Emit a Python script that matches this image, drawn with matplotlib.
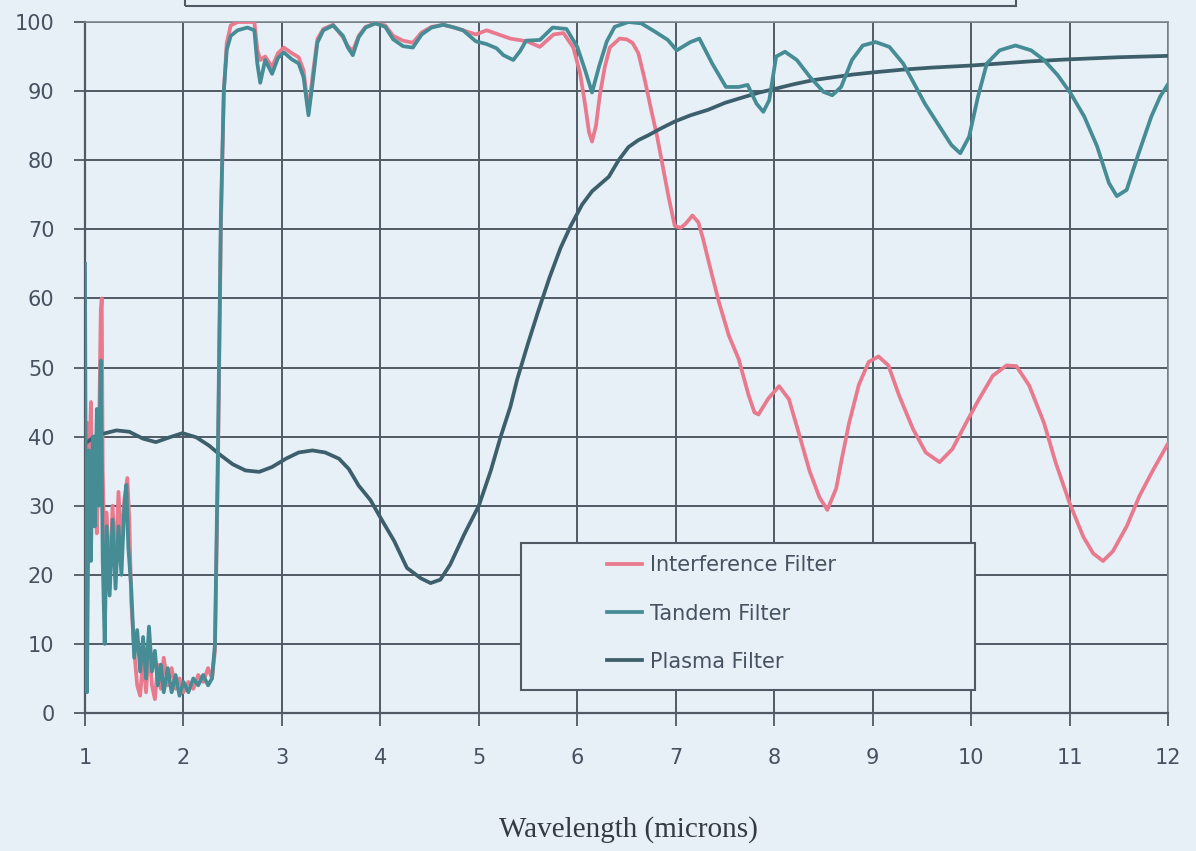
import matplotlib

matplotlib.use("Agg")
import matplotlib.pyplot as plt
from matplotlib.patches import Rectangle

BG = "#e7eff7"
GRID = "#4f5a64"
TXT = "#465260"
PINK = "#e97a8e"
TEAL = "#468c95"
SLATE = "#3d5f6c"

# Interference filter
int_x = [
    1.00, 1.02, 1.04, 1.06, 1.08, 1.10, 1.12, 1.14, 1.16, 1.17, 1.18, 1.20, 1.22, 1.25,
    1.28, 1.31, 1.34, 1.37, 1.40, 1.43, 1.45, 1.47, 1.50, 1.53, 1.56, 1.59, 1.62, 1.65,
    1.68, 1.71, 1.74, 1.77, 1.80, 1.84, 1.88, 1.92, 1.96, 2.00, 2.05, 2.10, 2.15, 2.20,
    2.25, 2.29, 2.32, 2.35, 2.38, 2.41, 2.44, 2.48, 2.55, 2.65, 2.72, 2.75, 2.78, 2.83,
    2.90, 2.96, 3.02, 3.10, 3.17, 3.22, 3.27, 3.31, 3.36, 3.42, 3.52, 3.62, 3.67, 3.72,
    3.78, 3.85, 3.95, 4.05, 4.13, 4.23, 4.33, 4.42, 4.52, 4.64, 4.75, 4.84, 4.97, 5.08,
    5.18, 5.32, 5.49, 5.62, 5.76, 5.86, 5.96, 6.03, 6.08, 6.12, 6.15, 6.19, 6.23, 6.28,
    6.33, 6.43, 6.50, 6.56, 6.62, 6.68, 6.74, 6.81, 6.87, 6.93, 6.99, 7.05, 7.10, 7.17,
    7.23, 7.28, 7.34, 7.44, 7.54, 7.64, 7.74, 7.80, 7.84, 7.94, 8.05, 8.15, 8.25, 8.36,
    8.46, 8.54, 8.63, 8.69, 8.76, 8.86, 8.96, 9.06, 9.16, 9.27, 9.41, 9.54, 9.68, 9.81,
    9.95, 10.08, 10.22, 10.36, 10.46, 10.59, 10.74, 10.86, 11.00, 11.14, 11.24, 11.34,
    11.44, 11.58, 11.71, 11.85, 12.00,
]
int_y = [
    30, 42, 33, 45, 28, 40, 26, 38, 58, 60, 35, 22, 29, 18,
    30, 21, 32, 24, 31, 34, 28, 16, 9, 4, 2.5, 8, 3, 10,
    4, 2, 7, 3.5, 8, 4, 6.5, 3.5, 5, 3, 4.5, 3.5, 5.5, 4.5,
    6.5, 5, 9, 35, 70, 90, 97, 99.5, 100, 100, 100, 96, 94.5, 95,
    93.5, 95.5, 96.3, 95.5, 94.9, 93, 87, 92, 97.5, 99, 99.6, 97.8, 96.5, 95.8,
    98, 99.3, 99.8, 99.5, 98, 97.3, 97, 98.5, 99.3, 99.6, 99.2, 98.8, 98.2, 98.8,
    98.3, 97.6, 97.2, 96.4, 98.2, 98.4, 96.3, 92.5, 88, 84, 82.7, 85, 89.5, 93.5,
    96.3, 97.6, 97.5, 97, 95.5, 92, 88, 83.5, 79, 74.5, 70.5, 70.2, 70.8, 72,
    71, 68.5, 65, 59.4, 54.6, 51.2, 46, 43.5, 43.2, 45.5, 47.3, 45.4, 40.5, 35,
    31.2, 29.4, 32.5, 37, 41.9, 47.5, 50.8, 51.6, 50.3, 45.9, 41.1, 37.7, 36.3, 38.2,
    42, 45.4, 48.8, 50.3, 50.2, 47.4, 42, 36.2, 30.4, 25.5, 23.1, 22,
    23.4, 27, 31.4, 35.2, 39,
]

# Tandem filter
tan_x = [
    1.00, 1.01, 1.02, 1.04, 1.06, 1.08, 1.10, 1.12, 1.14, 1.16, 1.18, 1.20, 1.22, 1.25,
    1.28, 1.31, 1.34, 1.37, 1.40, 1.42, 1.44, 1.47, 1.50, 1.53, 1.56, 1.59, 1.62, 1.65,
    1.68, 1.71, 1.74, 1.77, 1.80, 1.84, 1.88, 1.92, 1.96, 2.00, 2.05, 2.10, 2.15, 2.20,
    2.25, 2.29, 2.32, 2.35, 2.38, 2.41, 2.44, 2.48, 2.55, 2.65, 2.72, 2.75, 2.78, 2.83,
    2.90, 2.96, 3.02, 3.10, 3.17, 3.22, 3.27, 3.31, 3.36, 3.42, 3.52, 3.62, 3.67, 3.72,
    3.78, 3.85, 3.95, 4.05, 4.13, 4.23, 4.33, 4.42, 4.52, 4.64, 4.75, 4.84, 4.97, 5.08,
    5.18, 5.25, 5.35, 5.42, 5.48, 5.62, 5.75, 5.89, 6.00, 6.08, 6.15, 6.22, 6.30, 6.38,
    6.52, 6.65, 6.79, 6.92, 7.01, 7.15, 7.24, 7.37, 7.51, 7.64, 7.73, 7.82, 7.89, 7.95,
    8.02, 8.11, 8.23, 8.36, 8.50, 8.59, 8.68, 8.79, 8.90, 9.03, 9.17, 9.31, 9.44, 9.53,
    9.66, 9.80, 9.89, 9.98, 10.07, 10.16, 10.29, 10.45, 10.61, 10.74, 10.88, 11.01,
    11.15, 11.28, 11.40, 11.48, 11.58, 11.69, 11.83, 11.92, 12.00,
]
tan_y = [
    65, 20, 3, 38, 22, 40, 27, 44, 30, 51, 22, 10, 27, 17,
    28, 18, 27, 20, 30, 33, 24, 18, 8, 12, 6, 11, 5, 12.5,
    6, 9, 4, 7, 3, 6.5, 3, 5.5, 2.5, 4.5, 3, 5, 4, 5.5,
    4, 5, 10, 38, 72, 90, 96, 98, 98.8, 99.2, 98.8, 94, 91.2, 94.5,
    92.5, 94.8, 95.6, 94.6, 94, 92, 86.5, 91, 97, 98.8, 99.5, 98, 96.3, 95.2,
    97.8, 99.2, 99.8, 99.3, 97.5, 96.5, 96.3, 98.2, 99.2, 99.6, 99.2, 98.8, 97.2, 96.8,
    96.2, 95.2, 94.5, 95.8, 97.3, 97.4, 99.2, 99, 96.4, 93, 89.8, 93.5, 97.2, 99.3,
    100, 99.8, 98.6, 97.4, 95.9, 97.1, 97.6, 94, 90.6, 90.6, 90.9, 88.2, 87, 88.7,
    95, 95.7, 94.5, 92.1, 89.9, 89.4, 90.6, 94.5, 96.6, 97.1, 96.4, 94, 90.6, 88.2,
    85.3, 82.2, 81, 83.4, 89.2, 94, 95.9, 96.6, 95.9, 94.5, 92.3, 89.7,
    86.3, 82, 76.7, 74.8, 75.7, 80.5, 86.3, 89.2, 91,
]

# Plasma filter
pla_x = [
    1.00, 1.10, 1.18, 1.32, 1.45, 1.59, 1.72, 1.86, 1.99, 2.13, 2.26, 2.36, 2.50, 2.63,
    2.77, 2.90, 3.04, 3.17, 3.31, 3.44, 3.58, 3.68, 3.78, 3.90, 4.00, 4.14, 4.27, 4.41,
    4.51, 4.61, 4.71, 4.85, 5.00, 5.12, 5.22, 5.32, 5.39, 5.50, 5.60, 5.72, 5.83, 5.93,
    6.05, 6.15, 6.32, 6.42, 6.52, 6.62, 6.72, 6.85, 6.99, 7.15, 7.33, 7.50, 7.66, 7.85,
    8.00, 8.20, 8.40, 8.60, 8.80, 9.00, 9.30, 9.60, 10.00, 10.30, 10.60, 11.00, 11.50, 12.00,
]
pla_y = [
    39, 40, 40.4, 40.9, 40.7, 39.7, 39.2, 39.9, 40.5, 39.9, 38.7, 37.5, 36, 35.1,
    34.9, 35.6, 36.8, 37.7, 38, 37.7, 36.8, 35.3, 32.9, 30.8, 28.3, 24.9, 21, 19.5,
    18.8, 19.3, 21.5, 25.8, 30, 35, 39.9, 44.3, 48.3, 53.5, 58, 63.1, 67.3, 70.4,
    73.6, 75.5, 77.6, 80, 81.9, 82.9, 83.6, 84.6, 85.6, 86.5, 87.3, 88.3, 89, 89.8,
    90.3, 91, 91.6, 92, 92.4, 92.7, 93.1, 93.4, 93.7, 94, 94.3, 94.6, 94.9, 95.1,
]

x_ticks = list(range(1, 13))
y_ticks = list(range(0, 101, 10))
labels = ["Interference Filter", "Tandem Filter", "Plasma Filter"]

fig = plt.figure(figsize=(11.96, 8.51), dpi=100, facecolor=BG)
ax = fig.add_axes([85 / 1196, 138 / 851, 1083 / 1196, 691 / 851])
ax.set_facecolor(BG)

ax.plot(int_x, int_y, color=PINK, lw=2.7, label=labels[0], zorder=3)
ax.plot(pla_x, pla_y, color=SLATE, lw=2.7, label=labels[2], zorder=3.5)
ax.plot(tan_x, tan_y, color=TEAL, lw=2.7, label=labels[1], zorder=4)

ax.set_xlim(1, 12)
ax.set_ylim(0, 100)
ax.set_xticks(x_ticks)
ax.set_yticks(y_ticks)
ax.grid(True, color=GRID, lw=1.4, zorder=1)
ax.set_axisbelow(True)
for side in ["left", "bottom"]:
    ax.spines[side].set_color(GRID)
    ax.spines[side].set_linewidth(1.6)
for side in ["top", "right"]:
    ax.spines[side].set_color("#7d8890")
    ax.spines[side].set_linewidth(1.2)

ax.tick_params(axis="x", direction="out", length=9, width=1.3, color=GRID,
               labelsize=15, labelcolor=TXT, pad=16)
ax.tick_params(axis="y", direction="out", length=8, width=1.3, color=GRID,
               labelsize=15, labelcolor=TXT, pad=14)

# Legend box drawn separately so the entries can sit off-centre like the scan
ax.add_patch(Rectangle((0.4026, 0.0333), 0.4192, 0.2127, transform=ax.transAxes,
                       fc=BG, ec=GRID, lw=1.5, zorder=5))
handles, labs = ax.get_legend_handles_labels()
order = [labs.index(l) for l in labels]
leg = ax.legend([handles[i] for i in order], [labs[i] for i in order],
                loc="upper left", bbox_to_anchor=(0.482, 0.228), frameon=False,
                fontsize=15, labelcolor=TXT, handlelength=1.7, handletextpad=0.35,
                labelspacing=1.35, borderpad=0, borderaxespad=0)
leg.set_zorder(6)

fig.text(628 / 1196, 1 - 830 / 851, "Wavelength (microns)", ha="center", va="center",
         fontsize=21, family="Liberation Serif", color="#333a40")

# cut-off title box at the top of the scan
fig.add_artist(Rectangle((185 / 1196, 1 - 6 / 851), 831 / 1196, 0.05,
                         transform=fig.transFigure, fill=False, ec=GRID, lw=1.5))

fig.savefig("out.png", dpi=100, facecolor=BG)
